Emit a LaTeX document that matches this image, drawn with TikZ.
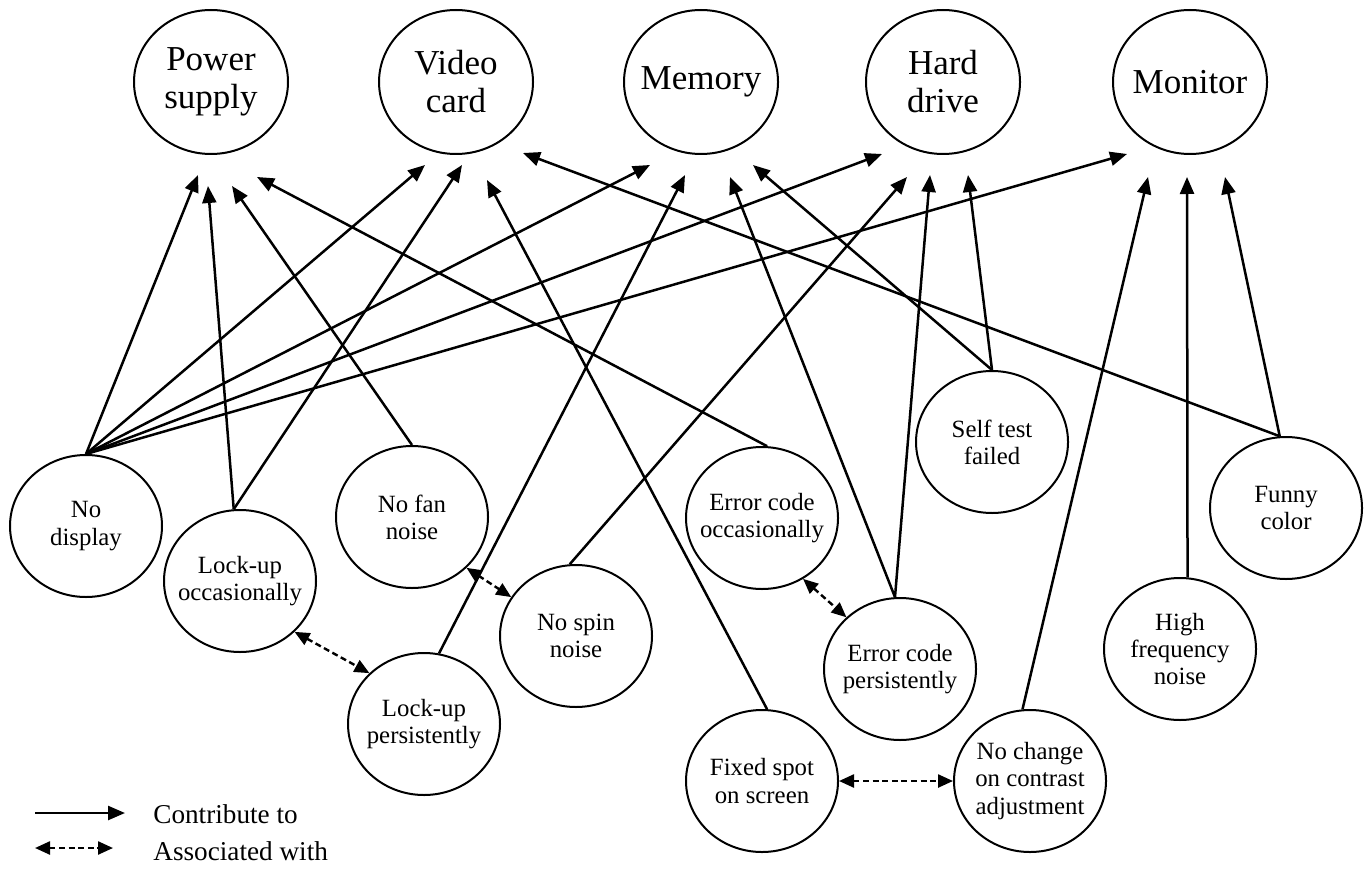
\documentclass[tikz,border=0pt]{standalone}
\usepackage{fontspec}
\setmainfont{Liberation Serif}
\usetikzlibrary{arrows.meta,shapes.geometric,calc}
\begin{document}
\begin{tikzpicture}[x=0.5pt,y=-0.5pt,
  cause/.style={ellipse,draw,line width=1pt,minimum width=77pt,minimum height=72pt,
    inner sep=-12pt,align=center,font=\fontsize{17.5}{19}\selectfont},
  symptom/.style={ellipse,draw,line width=1pt,minimum width=76pt,minimum height=71pt,
    inner sep=-12pt,align=center,font=\fontsize{12.4}{13.6}\selectfont},
  contrib/.style={line width=1.25pt,-{Triangle[length=8.5pt,width=7pt]}},
  assoc/.style={line width=1.2pt,dash pattern=on 3pt off 1.8pt,
    {Triangle[length=7.5pt,width=6.5pt]}-{Triangle[length=7.5pt,width=6.5pt]}},
  legendtext/.style={anchor=base west,inner sep=0pt,font=\fontsize{13.6}{15}\selectfont}
]
\useasboundingbox (0,0) rectangle (1368,877);

% possible causes
\node[cause] (ps)  at (211,82)  {Power\\supply};
\node[cause] (vc)  at (456,82)  {Video\\card};
\node[cause] (mem) at (701,82)  {Memory};
\node[cause] (hd)  at (943,82)  {Hard\\drive};
\node[cause] (mon) at (1190,82) {Monitor};

% observed symptoms
\node[symptom] (nd) at (86,526)   {No\\display};
\node[symptom] (lo) at (240,581)  {Lock-up\\occasionally};
\node[symptom] (nf) at (412,517)  {No fan\\noise};
\node[symptom] (ns) at (576,636)  {No spin\\noise};
\node[symptom] (lp) at (424,724)  {Lock-up\\persistently};
\node[symptom] (eo) at (762,518)  {Error code\\occasionally};
\node[symptom] (ep) at (900,669)  {Error code\\persistently};
\node[symptom] (st) at (992,442)  {Self test\\failed};
\node[symptom] (fc) at (1286,508) {Funny\\color};
\node[symptom] (hf) at (1180,649) {High\\frequency\\noise};
\node[symptom] (nc) at (1030,781) {No change\\on contrast\\adjustment};
\node[symptom] (fs) at (762,781)  {Fixed spot\\on screen};

% contributions to the power supply
\draw[contrib] (nd.north) -- ($(ps)+(-13,93)$);
\draw[contrib] (lo.95)    -- ($(ps)+(-3,104)$);
\draw[contrib] (nf.north) -- ($(ps)+(21,104)$);
\draw[contrib] (eo.86)    -- ($(ps)+(46,95)$);

% contributions to the video card
\draw[contrib] (nd.north) -- ($(vc)+(-31,83)$);
\draw[contrib] (lo.95)    -- ($(vc)+(6,83)$);
\draw[contrib] (fs.86)    -- ($(vc)+(31,98)$);
\draw[contrib] (fc.95)    -- ($(vc)+(67,71)$);

% contributions to memory
\draw[contrib] (nd.north) -- ($(mem)+(-51,83)$);
\draw[contrib] (lp.78)    -- ($(mem)+(-16,93)$);
\draw[contrib] (ep.94)    -- ($(mem)+(29,95)$);
\draw[contrib] (st.north) -- ($(mem)+(52,83)$);

% contributions to the hard drive
\draw[contrib] (nd.north) -- ($(hd)+(-61,72)$);
\draw[contrib] (ns.95)    -- ($(hd)+(-36,95)$);
\draw[contrib] (ep.94)    -- ($(hd)+(-13,93)$);
\draw[contrib] (st.north) -- ($(hd)+(25,93)$);

% contributions to the monitor
\draw[contrib] (nd.north) -- ($(mon)+(-63,72)$);
\draw[contrib] (nc.96)    -- ($(mon)+(-42,95)$);
\draw[contrib] (hf.84)    -- ($(mon)+(-3,95)$);
\draw[contrib] (fc.95)    -- ($(mon)+(35,95)$);

% associated symptoms
\draw[assoc] (lo.-43) -- (lp.137);
\draw[assoc] (nf.-43) -- (ns.149);
\draw[assoc] (eo.-56) -- (ep.136);
\draw[assoc] (fs.east) -- (nc.west);

% legend
\coordinate (la) at (35,813);
\coordinate (lb) at (125,813);
\coordinate (lc) at (35,848);
\coordinate (ld) at (113,848);
\draw[contrib] (la) -- (lb);
\draw[assoc] (lc) -- (ld);
\node[legendtext] (lt1) at (153,823) {Contribute to};
\node[legendtext] (lt2) at (153,860) {Associated with};
\end{tikzpicture}
\end{document}
